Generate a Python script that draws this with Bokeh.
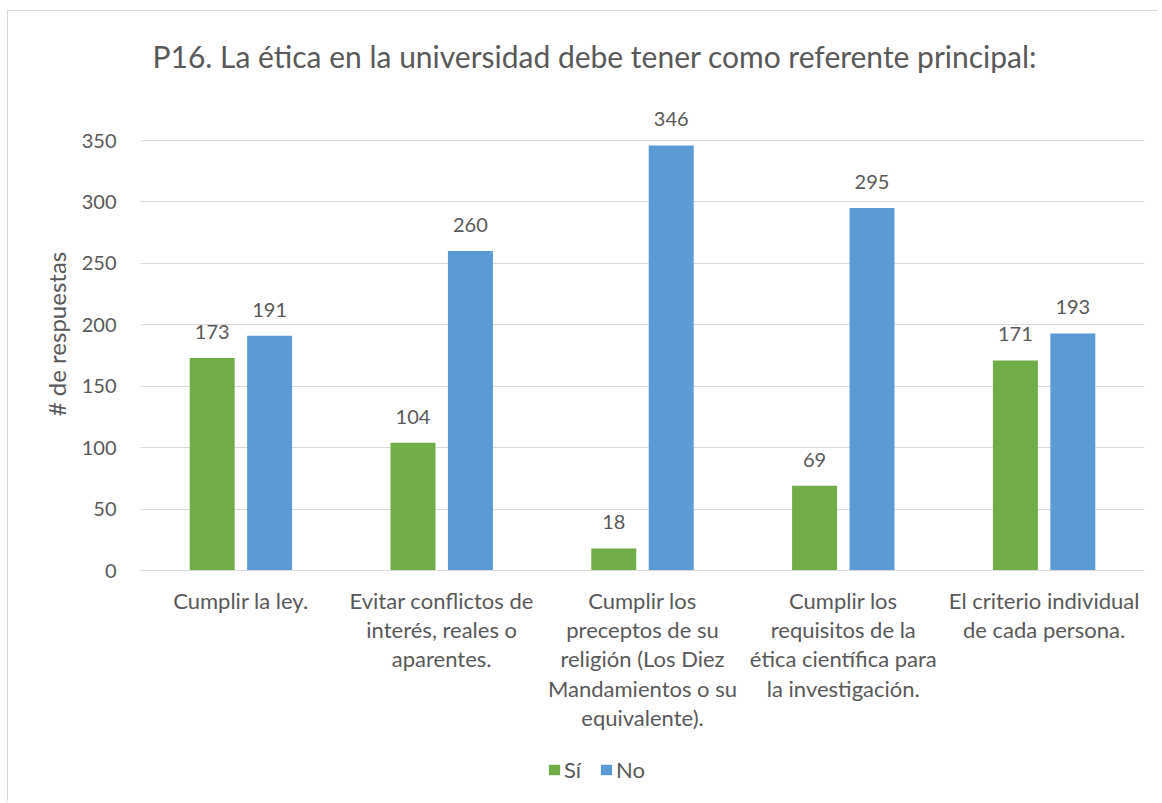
from bokeh.plotting import figure
from bokeh.layouts import column
from bokeh.models import ColumnDataSource, Legend, LegendItem, FixedTicker, Range1d
from bokeh.transform import dodge
from bokeh.core.properties import value
from bokeh.embed import file_html
from bokeh.resources import INLINE

title = "P16. La ética en la universidad debe tener como referente principal:"
categories = [
    "Cumplir la ley.",
    "Evitar conflictos de\ninterés, reales o\naparentes.",
    "Cumplir los\npreceptos de su\nreligión (Los Diez\nMandamientos o su\nequivalente).",
    "Cumplir los\nrequisitos de la\nética científica para\nla investigación.",
    "El criterio individual\nde cada persona.",
]
si_values = [173, 104, 18, 69, 171]
no_values = [191, 260, 346, 295, 193]
y_ticks = [0, 50, 100, 150, 200, 250, 300, 350]
series_names = ["Sí", "No"]

FONT = "Lato"
TXT = "#595959"
GREEN = "#70AD47"
BLUE = "#5B9BD5"

src = ColumnDataSource(dict(
    cat=categories,
    si=si_values,
    no=no_values,
    si_txt=[str(v) for v in si_values],
    no_txt=[str(v) for v in no_values],
))

p = figure(
    x_range=categories,
    y_range=Range1d(0, 385),
    width=1150, height=730,
    output_backend="svg",
    toolbar_location=None,
    min_border_left=132, min_border_right=14,
    min_border_top=84, min_border_bottom=171,
)

p.title.text = title
p.title.text_font = FONT
p.title.text_font_size = "30px"
p.title.text_font_style = "normal"
p.title.text_color = TXT
p.title.align = "left"
p.title.offset = 12
p.title.standoff = 48

g = p.vbar(x=dodge("cat", -0.143, range=p.x_range), top="si", width=0.224,
           source=src, fill_color=GREEN, line_color=None)
b = p.vbar(x=dodge("cat", 0.143, range=p.x_range), top="no", width=0.224,
           source=src, fill_color=BLUE, line_color=None)

for col, off in (("si_txt", -0.143), ("no_txt", 0.143)):
    p.text(x=dodge("cat", off, range=p.x_range), y=col.split("_")[0], text=col,
           source=src, text_align="center", text_baseline="middle",
           y_offset=-26, text_font=value(FONT), text_font_size="20px",
           text_color=TXT)

p.outline_line_color = None
p.background_fill_color = "white"
p.border_fill_color = "white"

p.xgrid.grid_line_color = None
p.ygrid.grid_line_color = "#D9D9D9"
p.ygrid.grid_line_width = 1

p.yaxis.ticker = FixedTicker(ticks=y_ticks)
p.yaxis.axis_line_color = None
p.yaxis.major_tick_line_color = None
p.yaxis.minor_tick_line_color = None
p.yaxis.major_label_standoff = 18
p.yaxis.major_label_text_font = FONT
p.yaxis.major_label_text_font_size = "20px"
p.yaxis.major_label_text_color = TXT
p.yaxis.axis_label = "# de respuestas"
p.yaxis.axis_label_text_font = FONT
p.yaxis.axis_label_text_font_size = "24px"
p.yaxis.axis_label_text_font_style = "normal"
p.yaxis.axis_label_text_color = TXT
p.yaxis.axis_label_standoff = 8

p.xaxis.axis_line_color = "#D9D9D9"
p.xaxis.major_tick_line_color = None
p.xaxis.minor_tick_line_color = None
p.xaxis.major_label_standoff = 10
p.xaxis.major_label_text_font = FONT
p.xaxis.major_label_text_font_size = "22px"
p.xaxis.major_label_text_color = TXT
p.xaxis.major_label_text_line_height = 1.09
p.xaxis.major_label_orientation = "horizontal"

# legend strip below the chart (its frame is aligned with the chart's frame)
lg = figure(
    width=1150, height=60,
    x_range=Range1d(0, 1), y_range=Range1d(0, 1),
    x_axis_type=None, y_axis_type=None,
    output_backend="svg", toolbar_location=None,
    min_border=0,
)
lg.outline_line_color = None
lg.xgrid.grid_line_color = None
lg.ygrid.grid_line_color = None
lg.background_fill_color = "white"
lg.border_fill_color = "white"
# legend proxies: zero-height bars, only their legend swatches show
lg_si = lg.vbar(x=[0.5], top=[0], width=0.1, fill_color=GREEN, line_color=None)
lg_no = lg.vbar(x=[0.5], top=[0], width=0.1, fill_color=BLUE, line_color=None)
legend = Legend(
    items=[LegendItem(label=series_names[0], renderers=[lg_si]),
           LegendItem(label=series_names[1], renderers=[lg_no])],
    orientation="horizontal",
    location=(407, 18),
    glyph_width=14, glyph_height=13,
    label_standoff=3, spacing=15,
    label_text_font=FONT, label_text_font_size="22px", label_text_color=TXT,
    border_line_color=None, background_fill_alpha=0,
    margin=0, padding=0,
)
lg.add_layout(legend, "center")

page = column(p, lg, spacing=0)
page.styles = {"margin-left": "7px", "margin-top": "10px",
               "border-left": "1px solid #d9d9d9", "border-top": "1px solid #d9d9d9"}

open("out.html", "w").write(file_html(page, INLINE))
